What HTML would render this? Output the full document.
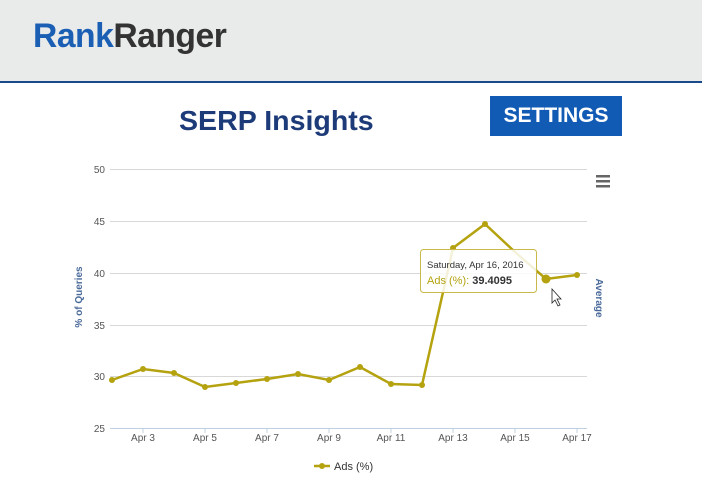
<!DOCTYPE html>
<html><head><meta charset="utf-8"><style>
body{margin:0;width:702px;height:498px;background:#fff;font-family:"Liberation Sans",sans-serif;overflow:hidden;position:relative}
.hdr{position:absolute;left:0;top:0;width:702px;height:81px;background:#e9eaea;border-bottom:2px solid #1a4a8a}
.logo{position:absolute;left:33px;top:17px;font-size:34px;font-weight:bold;letter-spacing:-0.5px;transform:scaleX(0.99);transform-origin:left}
.title{position:absolute;left:179px;top:105px;font-size:28px;font-weight:bold;color:#1d3b78;transform:scaleX(1.02);transform-origin:left}
.btn{position:absolute;left:490px;top:96px;width:132px;height:40px;background:#125bb5;color:#fff;font-size:21px;font-weight:bold;text-align:center;line-height:40px}
</style></head><body>
<div class="hdr"><div class="logo"><span style="color:#1a5fb4">Rank</span><span style="color:#333">Ranger</span></div></div>
<div class="title">SERP Insights</div>
<div class="btn">SETTINGS</div>
<svg width="702" height="498" style="position:absolute;left:0;top:0" font-family="Liberation Sans, sans-serif">
<g stroke="#d8d8d8" stroke-width="1">
<line x1="110" x2="587" y1="169.5" y2="169.5"/><line x1="110" x2="587" y1="221.5" y2="221.5"/>
<line x1="110" x2="587" y1="273.5" y2="273.5"/><line x1="110" x2="587" y1="325.5" y2="325.5"/>
<line x1="110" x2="587" y1="376.5" y2="376.5"/><line x1="110" x2="587" y1="428.5" y2="428.5" stroke="#c0d0e0"/>
</g>
<g stroke="#c0d0e0"><line x1="143" x2="143" y1="428" y2="433"/><line x1="205" x2="205" y1="428" y2="433"/><line x1="267" x2="267" y1="428" y2="433"/><line x1="329" x2="329" y1="428" y2="433"/><line x1="391" x2="391" y1="428" y2="433"/><line x1="453" x2="453" y1="428" y2="433"/><line x1="515" x2="515" y1="428" y2="433"/><line x1="577" x2="577" y1="428" y2="433"/></g>
<g font-size="10" fill="#555" text-anchor="end"><text x="105" y="173">50</text><text x="105" y="225">45</text><text x="105" y="277">40</text><text x="105" y="329">35</text><text x="105" y="380">30</text><text x="105" y="432">25</text></g>
<g font-size="10" fill="#555" text-anchor="middle"><text x="143" y="441">Apr 3</text><text x="205" y="441">Apr 5</text><text x="267" y="441">Apr 7</text><text x="329" y="441">Apr 9</text><text x="391" y="441">Apr 11</text><text x="453" y="441">Apr 13</text><text x="515" y="441">Apr 15</text><text x="577" y="441">Apr 17</text></g>
<text transform="translate(82,297) rotate(-90)" text-anchor="middle" font-size="10" font-weight="bold" fill="#4a6a9a">% of Queries</text>
<text transform="translate(596,298) rotate(90)" text-anchor="middle" font-size="10" font-weight="bold" fill="#4a6a9a">Average</text>
<g fill="#666"><rect x="596" y="175" width="14" height="2.5"/><rect x="596" y="180" width="14" height="2.5"/><rect x="596" y="185" width="14" height="2.5"/></g>
<polyline fill="none" stroke="#b5a20f" stroke-width="2.5" points="112,380 143,369 174,373 205,387 236,383 267,379 298,374 329,380 360,367 391,384 422,385 453,248 485,224 515,252 546,279 577,275"/>
<g fill="#b5a20f"><circle cx="112" cy="380" r="3"/><circle cx="143" cy="369" r="3"/><circle cx="174" cy="373" r="3"/><circle cx="205" cy="387" r="3"/><circle cx="236" cy="383" r="3"/><circle cx="267" cy="379" r="3"/><circle cx="298" cy="374" r="3"/><circle cx="329" cy="380" r="3"/><circle cx="360" cy="367" r="3"/><circle cx="391" cy="384" r="3"/><circle cx="422" cy="385" r="3"/><circle cx="453" cy="248" r="3"/><circle cx="485" cy="224" r="3"/><circle cx="546" cy="279" r="4.5"/><circle cx="577" cy="275" r="3"/></g>
<rect x="420.5" y="249.5" width="116" height="43" rx="3" fill="rgba(255,255,255,0.85)" stroke="#c9b84a"/>
<text x="427" y="268" font-size="9.5" fill="#333">Saturday, Apr 16, 2016</text>
<text x="427" y="284" font-size="11" fill="#b5a20f">Ads (%): <tspan fill="#333" font-weight="bold">39.4095</tspan></text>
<path d="M552,289 l0,14 l3,-3 l3,6 l2,-1 l-3,-6 l4,0 z" fill="#fff" stroke="#222" stroke-width="0.8"/>
<line x1="314" x2="330" y1="466" y2="466" stroke="#b5a20f" stroke-width="2.5"/><circle cx="322" cy="466" r="3" fill="#b5a20f"/>
<text x="334" y="470" font-size="11" fill="#333">Ads (%)</text>
</svg>
</body></html>
